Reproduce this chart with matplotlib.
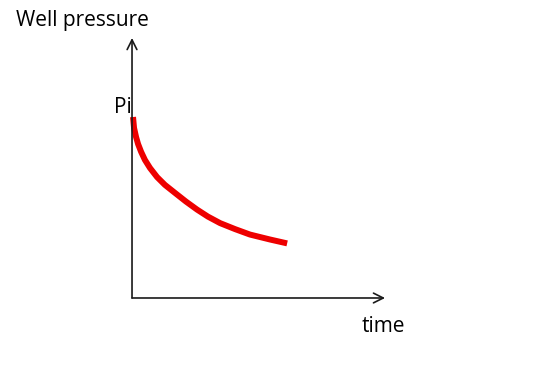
import matplotlib
matplotlib.use("Agg")
import matplotlib.pyplot as plt

# Data (time, well pressure) in arbitrary units, origin at axes corner
time = [0.04, 0.08, 0.16, 0.24, 0.36, 0.51, 0.71, 0.99, 1.30, 1.70, 2.13, 2.57, 3.00, 3.48,
        4.07, 4.66, 5.45, 6.13]
pressure = [6.96, 6.54, 6.19, 5.92, 5.62, 5.31, 5.00, 4.65, 4.35, 4.04, 3.71, 3.40, 3.13, 2.88,
            2.65, 2.44, 2.25, 2.10]
x_label = "time"
y_label = "Well pressure"
pi_label = "Pi"
axis_len = 10.0

plt.rcParams['font.family'] = ['Open Sans', 'DejaVu Sans']

fig = plt.figure(figsize=(5.45, 3.72), dpi=100)
ax = fig.add_axes([0, 0, 1, 1])
ax.set_xlim(-5.217, 16.32)
ax.set_ylim(-2.846, 11.46)
ax.axis('off')

arrow_kw = dict(arrowstyle='->,head_length=0.7,head_width=0.35', color='#1a1a1a', lw=1.2,
                shrinkA=0, shrinkB=0)
ax.annotate('', xy=(axis_len, 0), xytext=(0, 0), arrowprops=arrow_kw)
ax.annotate('', xy=(0, axis_len), xytext=(0, 0), arrowprops=arrow_kw)

ax.plot(time, pressure, color='#ee0000', lw=4.3, solid_capstyle='butt', solid_joinstyle='round')

ax.text(-1.94, 10.69, y_label, ha='center', va='center', fontsize=15, color='black')
ax.text(-0.36, 7.31, pi_label, ha='center', va='center', fontsize=15, color='black')
ax.text(9.92, -1.08, x_label, ha='center', va='center', fontsize=15, color='black')

fig.savefig('out.png', dpi=100, facecolor='white')
